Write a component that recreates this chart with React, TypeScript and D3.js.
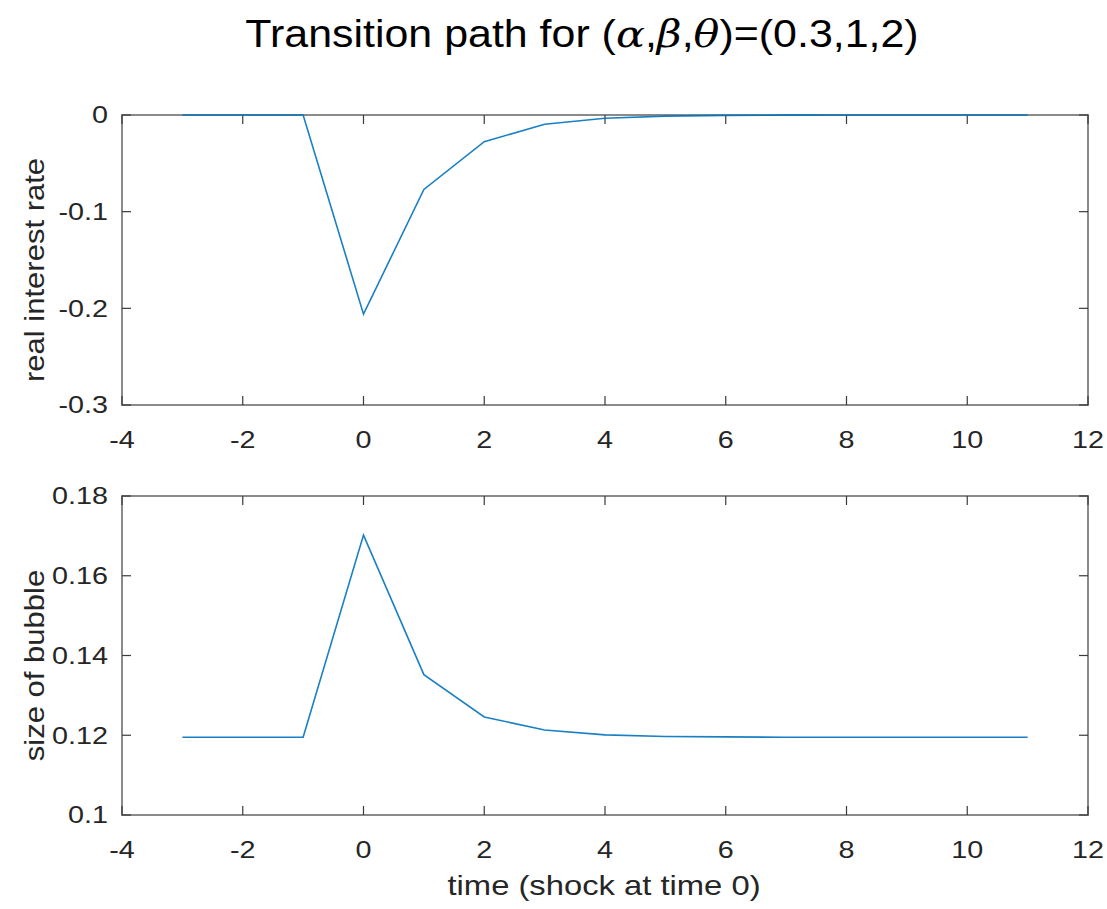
import React from "react";
import * as d3 from "d3";

const times = [-3, -2, -1, 0, 1, 2, 3, 4, 5, 6, 7, 8, 9, 10, 11];
const interestRate = [0, 0, 0, -0.206, -0.077, -0.0276, -0.0095, -0.0034, -0.0012, -0.0004, -0.00015, -0.00005, 0, 0, 0];
const bubbleSize = [0.1195, 0.1195, 0.1195, 0.1702, 0.1352, 0.1246, 0.1213, 0.1201, 0.1197, 0.1196, 0.1195, 0.1195, 0.1195, 0.1195, 0.1195];
const xTicks = [-4, -2, 0, 2, 4, 6, 8, 10, 12];
const topYTicks = [-0.3, -0.2, -0.1, 0];
const bottomYTicks = [0.1, 0.12, 0.14, 0.16, 0.18];
const topYTickLabels = ["-0.3", "-0.2", "-0.1", "0"];
const bottomYTickLabels = ["0.1", "0.12", "0.14", "0.16", "0.18"];

const FONT = "'Liberation Sans', Arial, Helvetica, sans-serif";
const LINE = "#0072BD";
const BOX = "#8a8a8a";
const TICK = "#3a3a3a";
const TXT = "#262626";
const SX = 1.25;

function Panel({ top, bottom, yDomain, yTicks, yLabels, values, ylabel }: any) {
  const left = 122, right = 1088;
  const x = d3.scaleLinear().domain([-4, 12]).range([left, right]);
  const y = d3.scaleLinear().domain(yDomain).range([bottom, top]);
  const line = d3.line<number>().x((_, i) => x(times[i])).y((v) => y(v));
  const tl = 9;
  return (
    <g>
      <rect x={left} y={top} width={right - left} height={bottom - top} fill="none" stroke={BOX} strokeWidth={2} />
      {xTicks.map((t) => (
        <g key={"x" + t}>
          <line x1={x(t)} x2={x(t)} y1={bottom} y2={bottom - tl} stroke={TICK} strokeWidth={1.2} />
          <line x1={x(t)} x2={x(t)} y1={top} y2={top + tl} stroke={TICK} strokeWidth={1.2} />
          <text transform={`translate(${x(t)},${bottom + 43}) scale(${SX},1)`} textAnchor="middle" fontSize={23} fill={TXT} fontFamily={FONT}>{t}</text>
        </g>
      ))}
      {yTicks.map((t: number, i: number) => (
        <g key={"y" + i}>
          <line x1={left} x2={left + tl} y1={y(t)} y2={y(t)} stroke={TICK} strokeWidth={1.2} />
          <line x1={right} x2={right - tl} y1={y(t)} y2={y(t)} stroke={TICK} strokeWidth={1.2} />
          <text transform={`translate(108,${y(t)}) scale(${SX},1)`} dy="0.36em" textAnchor="end" fontSize={23} fill={TXT} fontFamily={FONT}>{yLabels[i]}</text>
        </g>
      ))}
      <path d={line(values) || ""} fill="none" stroke={LINE} strokeWidth={1.6} strokeOpacity={0.9} />
      <text transform={`translate(44,${(top + bottom) / 2 + 10}) rotate(-90) scale(1.15,1)`} textAnchor="middle" fontSize={27} fill={TXT} fontFamily={FONT}>{ylabel}</text>
    </g>
  );
}

export default function App() {
  return (
    <svg width={1107} height={909} style={{ display: "block", position: "absolute", left: 0, top: 0, background: "#fff" }}>
      <rect width={1107} height={909} fill="#fff" />
      <text transform="translate(582,47) scale(1.13,1)" textAnchor="middle" fontSize={38} fill="#000" fontFamily={FONT}>
        Transition path for (<tspan fontStyle="italic" fontFamily="'DejaVu Serif', serif">α</tspan>,<tspan fontStyle="italic" fontFamily="'DejaVu Serif', serif">β</tspan>,<tspan fontStyle="italic" fontFamily="'DejaVu Serif', serif">θ</tspan>)=(0.3,1,2)
      </text>
      <Panel top={115} bottom={405} yDomain={[-0.3, 0]} yTicks={topYTicks} yLabels={topYTickLabels} values={interestRate} ylabel="real interest rate" />
      <Panel top={496} bottom={815} yDomain={[0.1, 0.18]} yTicks={bottomYTicks} yLabels={bottomYTickLabels} values={bubbleSize} ylabel="size of bubble" />
      <text transform="translate(604,895) scale(1.17,1)" textAnchor="middle" fontSize={28} fill={TXT} fontFamily={FONT}>time (shock at time 0)</text>
    </svg>
  );
}
